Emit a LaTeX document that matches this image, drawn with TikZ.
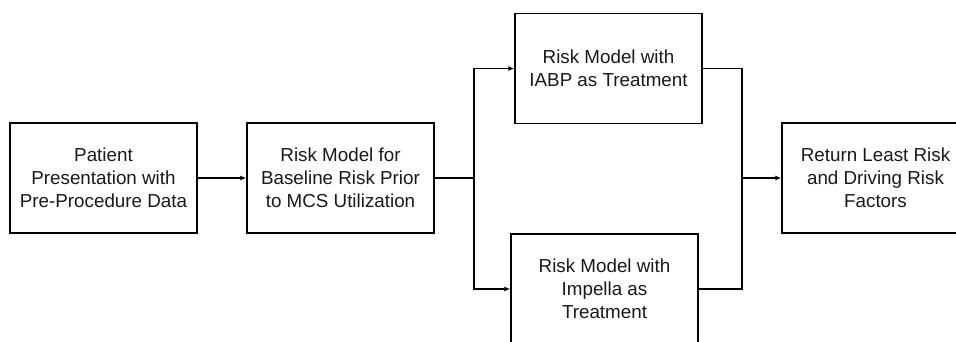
\documentclass[tikz,border=0pt]{standalone}
\usepackage{fontspec}
\setmainfont{Liberation Sans}
\usetikzlibrary{arrows.meta}
\begin{document}
\begin{tikzpicture}[x=1pt,y=-1pt,
  box/.style={draw=black,line width=1.4pt,minimum width=187pt,minimum height=110pt,align=center,inner sep=0pt,
    font=\fontsize{18.8}{23}\selectfont,text=black!90},
  conn/.style={line width=1.4pt},
  arr/.style={conn,-{Latex[length=6pt,width=5pt]}}]
\useasboundingbox (0,0) rectangle (956,341);
\clip (0,0) rectangle (956,341);
\node[box] (a) at (103.5,178) {Patient\\Presentation with\\Pre-Procedure Data};
\node[box] (b) at (340.5,178) {Risk Model for\\Baseline Risk Prior\\to MCS Utilization};
\node[box] (c) at (608.5,68.5) {Risk Model with\\IABP as Treatment};
\node[box] (d) at (604.5,289) {Risk Model with\\Impella as\\Treatment};
\node[box] (e) at (875.5,178) {Return Least Risk\\and Driving Risk\\Factors};
\coordinate (s) at (474,178);
\coordinate (m) at (742,178);
\draw[arr] (a) -- (b);
\draw[conn] (b) -- (s);
\draw[arr] (s) |- (c.west);
\draw[arr] (s) |- (d.west);
\draw[conn] (c.east) -| (m);
\draw[conn] (d.east) -| (m);
\draw[arr] (m) -- (e);
\end{tikzpicture}
\end{document}
